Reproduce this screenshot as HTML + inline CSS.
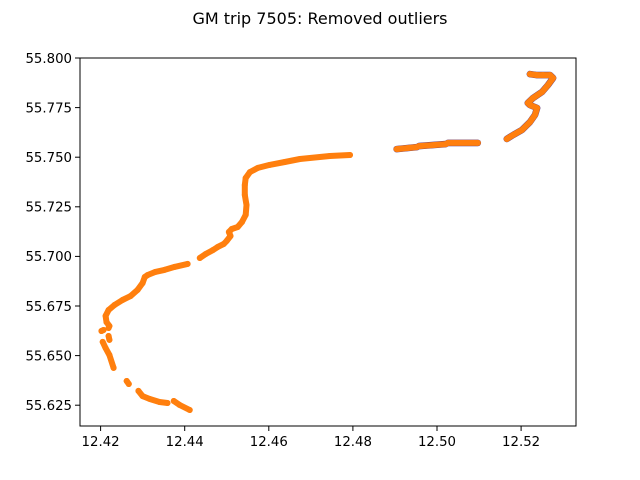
<!DOCTYPE html>
<html><head><meta charset="utf-8"><style>body{margin:0;background:#fff}svg{display:block}text{font-family:"DejaVu Sans","Liberation Sans",sans-serif;fill:#000}</style></head>
<body>
<svg id="chart" width="640" height="480" viewBox="0 0 640 480" xmlns="http://www.w3.org/2000/svg">
<rect x="0" y="0" width="640" height="480" fill="#fff"/>
<text x="320" y="24" font-size="16" text-anchor="middle">GM trip 7505: Removed outliers</text>
<g id="marks"></g>
<rect x="80" y="58" width="496" height="368" fill="none" stroke="#000" stroke-width="1"/>
<g id="xaxis"></g>
<g id="yaxis"></g>
</svg>
<script>
const xTicks=[12.42,12.44,12.46,12.48,12.50,12.52];
const xTickLabels=["12.42","12.44","12.46","12.48","12.50","12.52"];
const yTicks=[55.625,55.650,55.675,55.700,55.725,55.750,55.775,55.800];
const yTickLabels=["55.625","55.650","55.675","55.700","55.725","55.750","55.775","55.800"];
const segA=[[12.4793,55.7511],[12.4745,55.7506],[12.4674,55.7491],[12.4638,55.7476],[12.4602,55.7461],[12.4574,55.7446],[12.4555,55.7425],[12.4545,55.7395],[12.4543,55.7360],[12.4543,55.7310],[12.4547,55.7259],[12.4545,55.7209],[12.4536,55.7173],[12.4526,55.7148],[12.4512,55.7138],[12.4505,55.7123],[12.4509,55.7103],[12.4500,55.7078],[12.4493,55.7063],[12.4478,55.7047],[12.4467,55.7032],[12.4450,55.7012],[12.4436,55.6992]];
const segB=[[12.4407,55.6962],[12.4376,55.6947],[12.4352,55.6932],[12.4329,55.6921],[12.4312,55.6906],[12.4305,55.6896],[12.4300,55.6866],[12.4288,55.6831],[12.4271,55.6800],[12.4252,55.6780],[12.4233,55.6755],[12.4219,55.6730],[12.4212,55.6700],[12.4214,55.6669],[12.4221,55.6649],[12.4219,55.6639]];
const segE=[[12.4202,55.6624],[12.4207,55.6629]];
const segF=[[12.4219,55.6599],[12.4221,55.6579]];
const segG=[[12.4205,55.6569],[12.4212,55.6538],[12.4221,55.6503],[12.4231,55.6438]];
const segH=[[12.4262,55.6372],[12.4267,55.6357]];
const segI=[[12.4290,55.6322],[12.4300,55.6296],[12.4317,55.6281],[12.4340,55.6266],[12.4359,55.6261]];
const segJ=[[12.4374,55.6271],[12.4388,55.6251],[12.4412,55.6226]];
const segC1=[[12.4904,55.7541],[12.4952,55.7551]];
const segC2=[[12.4957,55.7556],[12.5021,55.7566]];
const segC3=[[12.5026,55.7572],[12.5097,55.7572]];
const segD=[[12.5166,55.7592],[12.5181,55.7612],[12.5202,55.7637],[12.5221,55.7677],[12.5233,55.7713],[12.5238,55.7748],[12.5221,55.7763],[12.5216,55.7773],[12.5228,55.7798],[12.5250,55.7829],[12.5264,55.7864],[12.5276,55.7899],[12.5269,55.7914],[12.5252,55.7914],[12.5238,55.7914],[12.5221,55.7919]];
const leftSegments=[segA,segB,segE,segF,segG,segH,segI,segJ];
const rightSegments=[segC1,segC2,segC3,segD];

const NS="http://www.w3.org/2000/svg";
function sx(v){return 100.6+(v-12.42)/0.02*84.1;}
function sy(v){return 58+(55.8-v)/0.025*49.6;}
function mk(t,a,p){const e=document.createElementNS(NS,t);for(const k in a)e.setAttribute(k,a[k]);p.appendChild(e);return e;}
const marks=document.getElementById('marks');
const xg=document.getElementById('xaxis'), yg=document.getElementById('yaxis');
xTicks.forEach((v,i)=>{
  const l=mk('line',{x1:sx(v),x2:sx(v),y1:426,y2:431,stroke:'#000','stroke-width':1},xg);
  
  
  const t=mk('text',{x:sx(v),y:446,'font-size':13.3,'text-anchor':'middle'},xg);
  t.textContent=xTickLabels[i];
  
  
});
yTicks.forEach((v,i)=>{
  const l=mk('line',{x1:75,x2:80,y1:sy(v),y2:sy(v),stroke:'#000','stroke-width':1},yg);
  
  
  const t=mk('text',{x:72,y:sy(v)+4.8,'font-size':13.3,'text-anchor':'end'},yg);
  t.textContent=yTickLabels[i];
  
  
});
function pts(s){return s.map(p=>sx(p[0]).toFixed(1)+','+sy(p[1]).toFixed(1)).join(' ');}
rightSegments.forEach(s=>{
  const b=mk('polyline',{points:pts(s),fill:'none',stroke:'#4a2c86','stroke-width':6.6,'stroke-linecap':'round','stroke-linejoin':'round'},marks);
  
  
});
leftSegments.concat(rightSegments).forEach(s=>{
  const o=mk('polyline',{points:pts(s),fill:'none',stroke:'#ff7f0e','stroke-width':6,'stroke-linecap':'round','stroke-linejoin':'round'},marks);
  
  
  s.forEach(p=>{
    const c=mk('circle',{cx:sx(p[0]),cy:sy(p[1]),r:3,fill:'#ff7f0e'},marks);
    
    
  });
});
</script>
</body></html>
